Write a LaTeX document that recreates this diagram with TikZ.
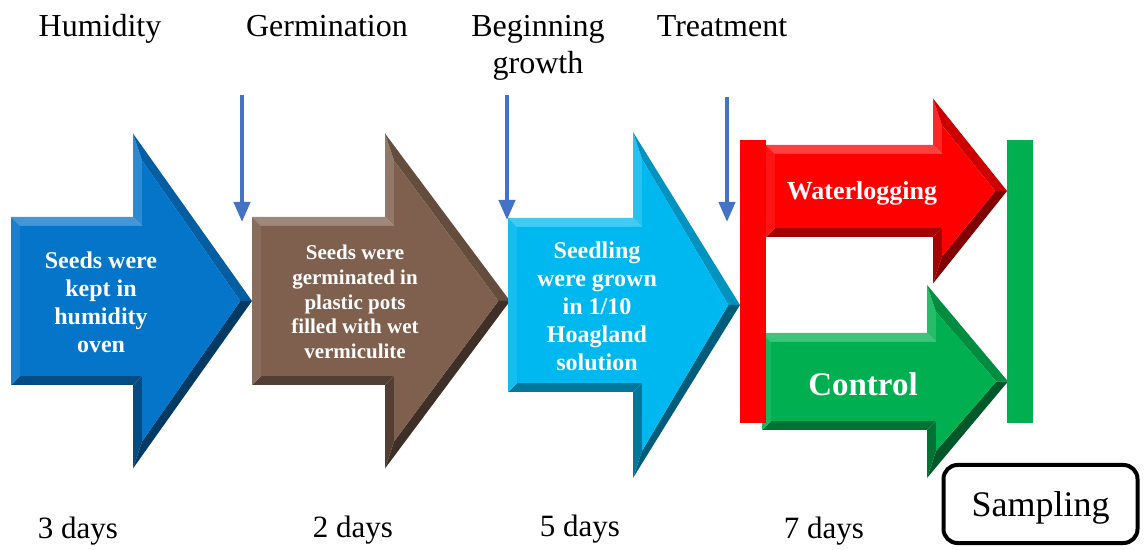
\documentclass[tikz,border=0pt]{standalone}
\usepackage{fontspec}
\setmainfont{Liberation Serif}
\usetikzlibrary{arrows.meta}
\definecolor{stageblue}{RGB}{5,117,201}
\definecolor{stagebrown}{RGB}{127,96,78}
\definecolor{stagecyan}{RGB}{0,184,240}
\definecolor{stagered}{RGB}{255,0,0}
\definecolor{stagegreen}{RGB}{0,176,80}
\definecolor{cueblue}{RGB}{68,114,196}

% bevel width of the block arrows
\def\bv{9}
% #1 name, #2 colour, #3 left, #4 centre y, #5 body half height,
% #6 head base, #7 head half height, #8 tip
\newcommand{\stagearrow}[8]{%
	\coordinate (#1-a) at (#3,{#4-#5});
	\coordinate (#1-b) at (#6,{#4-#5});
	\coordinate (#1-c) at (#6,{#4-#7});
	\coordinate (#1-d) at (#8,#4);
	\coordinate (#1-e) at (#6,{#4+#7});
	\coordinate (#1-f) at (#6,{#4+#5});
	\coordinate (#1-g) at (#3,{#4+#5});
	\coordinate (#1-A) at ({#3+\bv},{#4-#5+\bv});
	\coordinate (#1-B) at ({#6+\bv},{#4-#5+\bv});
	\coordinate (#1-C) at ({#6+\bv},{#4-#7+3*\bv});
	\coordinate (#1-D) at ({#8-1.3*\bv},#4);
	\coordinate (#1-E) at ({#6+\bv},{#4+#7-3*\bv});
	\coordinate (#1-F) at ({#6+\bv},{#4+#5-\bv});
	\coordinate (#1-G) at ({#3+\bv},{#4+#5-\bv});
	\fill[#2!75!white] (#1-a) -- (#1-b) -- (#1-B) -- (#1-A) -- cycle;
	\fill[#2!85!white] (#1-b) -- (#1-c) -- (#1-C) -- (#1-B) -- cycle;
	\fill[#2!80!black] (#1-c) -- (#1-d) -- (#1-D) -- (#1-C) -- cycle;
	\fill[#2!50!black] (#1-d) -- (#1-e) -- (#1-E) -- (#1-D) -- cycle;
	\fill[#2!65!black] (#1-e) -- (#1-f) -- (#1-F) -- (#1-E) -- cycle;
	\fill[#2!65!black] (#1-f) -- (#1-g) -- (#1-G) -- (#1-F) -- cycle;
	\fill[#2!92!white] (#1-g) -- (#1-a) -- (#1-A) -- (#1-G) -- cycle;
	\fill[#2] (#1-A) -- (#1-B) -- (#1-C) -- (#1-D) -- (#1-E) -- (#1-F) -- (#1-G) -- cycle;
}

\begin{document}
\begin{tikzpicture}[x=0.5pt,y=-0.5pt,
	title/.style={font=\fontsize{16}{18.5}\selectfont, align=center, inner sep=0pt},
	duration/.style={font=\fontsize{15.5}{18}\selectfont, inner sep=0pt},
	stagetext/.style={text=white, font=\bfseries, align=center, inner sep=0pt},
	stagecue/.style={draw=cueblue, line width=2pt, -{Triangle[length=10pt,width=8pt]}}]
	\useasboundingbox (0,0) rectangle (1146,550);

	% block arrows
	\stagearrow{humid}{stageblue}{11}{301}{84}{133}{167.5}{252}
	\stagearrow{germ}{stagebrown}{252}{301}{84}{385}{167.5}{510}
	\stagearrow{grow}{stagecyan}{508}{305}{87}{633}{173}{740}
	\stagearrow{water}{stagered}{766}{191}{46}{933}{92.5}{1007}
	\stagearrow{ctrl}{stagegreen}{762}{381.5}{48.5}{927}{96.5}{1008}

	% start and end bars of the treatment
	\fill[stagered] (740,140) rectangle (766,423);
	\fill[stagegreen] (1007,140) rectangle (1033,423);

	\node[stagetext, font=\bfseries\fontsize{12}{14}\selectfont] (humidtext) at (101,302)
		{Seeds were\\kept in\\humidity\\oven};
	\node[stagetext, font=\bfseries\fontsize{10.5}{12.3}\selectfont] (germtext) at (355,302)
		{Seeds were\\germinated in\\plastic pots\\filled with wet\\vermiculite};
	\node[stagetext, font=\bfseries\fontsize{12}{14}\selectfont] (growtext) at (597,306)
		{Seedling\\were grown\\in 1/10\\Hoagland\\solution};
	\node[stagetext, font=\bfseries\fontsize{13}{15}\selectfont] (watertext) at (862,193) {Waterlogging};
	\node[stagetext, font=\bfseries\fontsize{16.5}{19}\selectfont] (ctrltext) at (863,384) {Control};

	% stage titles
	\node[title] (humidtitle) at (100,29) {Humidity};
	\node[title] (germtitle) at (327,26) {Germination};
	\node[title] (growtitle) at (538,48) {Beginning\\growth};
	\node[title] (treattitle) at (722,26) {Treatment};

	% time marks
	\coordinate (germ-top) at (242,95);
	\coordinate (germ-end) at (242,222);
	\coordinate (grow-top) at (507,95);
	\coordinate (grow-end) at (507,220);
	\coordinate (treat-top) at (727,97);
	\coordinate (treat-end) at (727,222);
	\draw[stagecue] (germ-top) -- (germ-end);
	\draw[stagecue] (grow-top) -- (grow-end);
	\draw[stagecue] (treat-top) -- (treat-end);

	% durations
	\node[duration] (humiddays) at (78,531) {3 days};
	\node[duration] (germdays) at (353,530) {2 days};
	\node[duration] (growdays) at (580,529) {5 days};
	\node[duration] (treatdays) at (824,531) {7 days};

	\node[draw, line width=2pt, rounded corners=7pt, minimum width=97pt, minimum height=39pt,
		text depth=0pt, font=\fontsize{18}{21}\selectfont] (sampling) at (1040.5,504) {Sampling};
\end{tikzpicture}
\end{document}
